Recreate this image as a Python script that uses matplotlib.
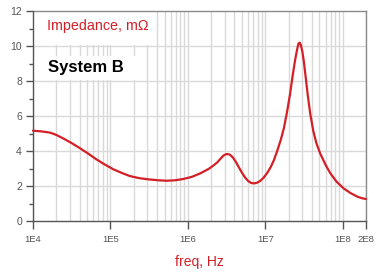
import numpy as np
import matplotlib
matplotlib.use("Agg")
import matplotlib.pyplot as plt
from matplotlib.patches import Rectangle
from matplotlib.ticker import FixedLocator, NullFormatter

# data
log_freq = [4.00, 4.11, 4.22, 4.30, 4.39, 4.50, 4.61, 4.72, 4.82, 4.93, 5.04, 5.15, 5.25,
            5.37, 5.49, 5.61, 5.73, 5.84, 5.94, 6.05, 6.16, 6.27, 6.33, 6.38, 6.42, 6.46,
            6.50, 6.54, 6.58, 6.62, 6.66, 6.70, 6.74, 6.78, 6.82, 6.86, 6.90, 6.94,
            6.98, 7.03, 7.07, 7.11, 7.15, 7.20, 7.24, 7.28, 7.32, 7.35, 7.38, 7.40,
            7.42, 7.43, 7.445, 7.46, 7.48, 7.50, 7.52, 7.55, 7.58, 7.62, 7.66, 7.71,
            7.78, 7.84, 7.92, 8.01, 8.10, 8.19, 8.25, 8.30]
impedance = [5.16, 5.12, 5.05, 4.92, 4.72, 4.45, 4.15, 3.83, 3.52, 3.22, 2.95, 2.74, 2.57,
             2.45, 2.38, 2.33, 2.30, 2.33, 2.40, 2.52, 2.72, 2.98, 3.17, 3.35, 3.55, 3.74,
             3.83, 3.80, 3.64, 3.38, 3.06, 2.75, 2.48, 2.28, 2.17, 2.15, 2.20, 2.31,
             2.48, 2.78, 3.08, 3.46, 3.95, 4.63, 5.30, 6.20, 7.25, 8.20, 9.05, 9.55,
             9.98, 10.15, 10.19, 10.05, 9.65, 9.05, 8.30, 7.15, 6.15, 5.15, 4.45, 3.85,
             3.20, 2.73, 2.25, 1.87, 1.60, 1.39, 1.30, 1.26]

x_ticks = [1e4, 1e5, 1e6, 1e7, 1e8, 2e8]
x_tick_labels = ["1E4", "1E5", "1E6", "1E7", "1E8", "2E8"]
y_ticks = [0, 2, 4, 6, 8, 10, 12]

freq = [10 ** v for v in log_freq]

plt.rcParams['font.family'] = ['Liberation Sans', 'DejaVu Sans']

fig = plt.figure(figsize=(3.79, 2.76), dpi=100)
ax = fig.add_axes([33 / 379, 1 - 221 / 276, 333 / 379, 210 / 276])

red = "#d41f26"
ax.plot(freq, impedance, color=red, lw=1.6, solid_joinstyle="round",
        solid_capstyle="round", zorder=4, clip_on=False)

ax.set_xscale("log")
ax.set_xlim(1e4, 2e8)
ax.set_ylim(0, 12)

# grid
minor_pos = [m * 10 ** e for e in range(4, 9) for m in range(1, 10) if m * 10 ** e <= 2e8]
for p in minor_pos:
    ax.axvline(p, color="#d9d9d9", lw=1.0, zorder=1)
for yv in [2, 4, 6, 8, 10]:
    ax.axhline(yv, color="#d9d9d9", lw=1.0, zorder=1)

# white label boxes
ax.add_patch(Rectangle((0, 0.838), 0.36, 0.162, transform=ax.transAxes,
                       facecolor="white", edgecolor="none", zorder=2))
ax.add_patch(Rectangle((0, 0.672), 0.315, 0.114, transform=ax.transAxes,
                       facecolor="white", edgecolor="none", zorder=2))

ax.text(0.042, 0.929, "Impedance, m\u03a9", transform=ax.transAxes, color=red,
        fontsize=10.3, ha="left", va="center", zorder=3)
ax.text(0.045, 0.733, "System B", transform=ax.transAxes, color="black",
        fontsize=12, fontweight="bold", ha="left", va="center", zorder=3)

ax.xaxis.set_major_locator(FixedLocator(x_ticks))
ax.set_xticklabels(x_tick_labels)
ax.xaxis.set_minor_locator(FixedLocator([]))
ax.xaxis.set_minor_formatter(NullFormatter())
ax.yaxis.set_major_locator(FixedLocator(y_ticks))
ax.yaxis.set_minor_locator(FixedLocator([1, 3, 5, 7, 9, 11]))

ax.tick_params(axis="x", which="major", direction="out", length=6, width=1,
               color="#555555", labelcolor="#555555", labelsize=6.8, pad=4)
ax.tick_params(axis="y", which="major", direction="out", length=5, width=1,
               color="#555555", labelcolor="#555555", labelsize=7.5, pad=3)
ax.tick_params(axis="y", which="minor", direction="out", length=3, width=1,
               color="#555555")

for s in ["left", "bottom"]:
    ax.spines[s].set_color("#555555")
    ax.spines[s].set_linewidth(1.0)
    ax.spines[s].set_zorder(5)
for s in ["top", "right"]:
    ax.spines[s].set_color("#8a8a8a")
    ax.spines[s].set_linewidth(1.0)

ax.set_xlabel("freq, Hz", color=red, fontsize=10, labelpad=8)

fig.savefig("out.png", dpi=100)
